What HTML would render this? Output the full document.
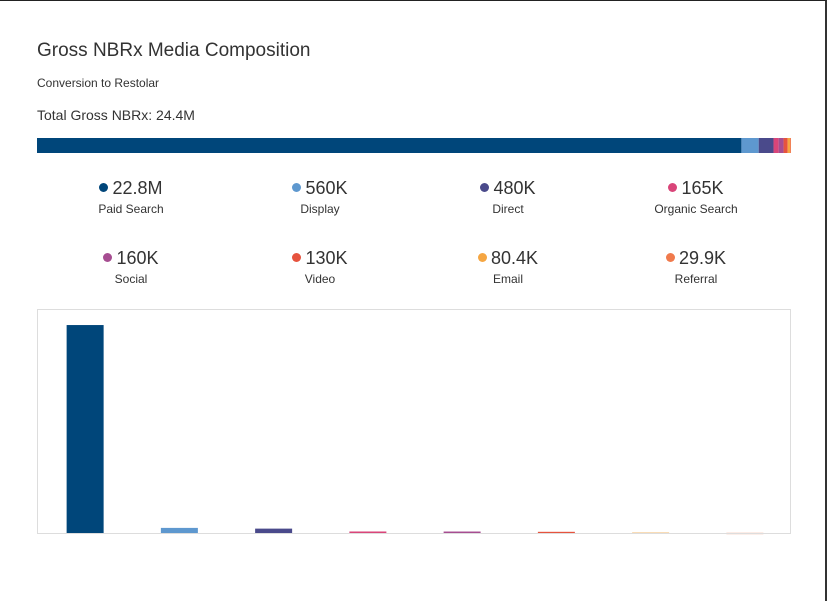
<!DOCTYPE html>
<html><head><meta charset="utf-8">
<style>
html,body{margin:0;padding:0;background:#fff;}
body{width:829px;height:601px;position:relative;overflow:hidden;font-family:"Liberation Sans",sans-serif;color:#333;}
.frame{position:absolute;left:0;top:0;width:827px;height:601px;border-top:1px solid #222;border-right:2px solid #333;box-sizing:border-box;}
.t{position:absolute;white-space:nowrap;}
.stat{position:absolute;width:180px;text-align:center;}
.stat .v{font-size:18px;color:#333;line-height:20px;}
.stat .v i{display:inline-block;width:9px;height:9px;border-radius:50%;margin-right:4px;vertical-align:2px;}
.stat .l{font-size:12px;color:#333;margin-top:4px;}
</style></head><body>
<div class="frame"></div>
<div class="t" style="left:37px;top:40px;font-size:19px;color:#333;">Gross NBRx Media Composition</div>
<div class="t" style="left:37px;top:76px;font-size:12px;">Conversion to Restolar</div>
<div class="t" style="left:37px;top:107px;font-size:14px;">Total Gross NBRx: 24.4M</div>
<svg id="stack" style="position:absolute;left:37px;top:138px" width="754" height="15"></svg>
<div id="stats"></div>
<svg id="chart" style="position:absolute;left:0;top:0" width="829" height="601"></svg>
<script>
const categories=["Paid Search","Display","Direct","Organic Search","Social","Video","Email","Referral"];
const values=[22800000,560000,480000,165000,160000,130000,80400,29900];
const labels=["22.8M","560K","480K","165K","160K","130K","80.4K","29.9K"];
const colors=["#00467a","#5e98cf","#4a4a8b","#d94579","#a64d91","#e6533e","#f5a642","#f07a4c"];
const barColors=["#00467a","#5e98cf","#4a4a8b","#d94579","#a64d91","#e6533e","#f7cf9c","#f5b9a6"];
const total=values.reduce((a,b)=>a+b,0);
const NS="http://www.w3.org/2000/svg";
const st=document.getElementById('stack');
let acc=0;
values.forEach((v,i)=>{
  const r=document.createElementNS(NS,'rect');
  r.setAttribute('x',acc/total*754);r.setAttribute('y',0);
  r.setAttribute('width',v/total*754);r.setAttribute('height',15);
  r.setAttribute('fill',colors[i]);
  
  
  st.appendChild(r);acc+=v;
});
const sd=document.getElementById('stats');
const cx=[131,320,508,696];
categories.forEach((c,i)=>{
  const d=document.createElement('div');d.className='stat';
  d.style.left=(cx[i%4]-90)+'px';d.style.top=(i<4?178:248)+'px';
  d.innerHTML='<div class="v"><i style="background:'+colors[i]+'"></i>'+labels[i]+'</div><div class="l">'+c+'</div>';
  
  
  sd.appendChild(d);
});
const ch=document.getElementById('chart');
const px=37,py=310,pw=754,ph=223,yMax=24450000;
const box=document.createElementNS(NS,'rect');
box.setAttribute('x',px+0.5);box.setAttribute('y',py-0.5);box.setAttribute('width',pw-1);box.setAttribute('height',ph+1);
box.setAttribute('fill','none');box.setAttribute('stroke','#ddd');


ch.appendChild(box);
const band=pw/categories.length;
const xs=i=>px+band*i+band*0.5+1;
const ys=v=>py+ph-v/yMax*ph;
values.forEach((v,i)=>{
  const r=document.createElementNS(NS,'rect');
  const y=ys(v);
  r.setAttribute('x',xs(i)-18.5);r.setAttribute('y',y);
  r.setAttribute('width',37);r.setAttribute('height',Math.max(py+ph-y,1.5));
  r.setAttribute('fill',barColors[i]);
  
  
  ch.appendChild(r);
});
const base=document.createElementNS(NS,'line');
base.setAttribute('x1',px);base.setAttribute('x2',px+pw);base.setAttribute('y1',py+ph+0.5);base.setAttribute('y2',py+ph+0.5);
base.setAttribute('stroke','#ddd');


ch.appendChild(base);
</script>
</body></html>
